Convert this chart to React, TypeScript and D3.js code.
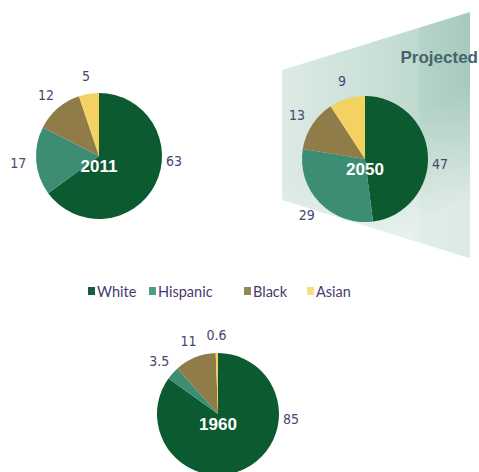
import React from "react";
import * as d3 from "d3";

const groups = ["White", "Hispanic", "Black", "Asian"];
const colors = ["#0c5a30", "#3d8d74", "#8f7c48", "#f3d262"];
const legendColors = ["#1a5c3c", "#4f9c82", "#8a8a52", "#f5e080"];

const years = ["2011", "2050", "1960"];
const values2011 = [63, 17, 12, 5];
const values2050 = [47, 29, 13, 9];
const values1960 = [85, 3.5, 11, 0.6];
const labels2011 = ["63", "17", "12", "5"];
const labels2050 = ["47", "29", "13", "9"];
const labels1960 = ["85", "3.5", "11", "0.6"];

const W = 479;
const H = 472;

const pies = [
  { year: years[0], values: values2011, labels: labels2011, cx: 99, cy: 156, r: 63 },
  { year: years[1], values: values2050, labels: labels2050, cx: 365, cy: 159, r: 63 },
  { year: years[2], values: values1960, labels: labels1960, cx: 218, cy: 414, r: 61 },
];

const legendX = [88, 149, 244, 307];

const numFont = "'Liberation Sans Narrow', 'Arial Narrow', 'DejaVu Sans Condensed', 'Liberation Sans', Arial, sans-serif";
const labelColor = "#4a4470";

function Pie({ p }: { p: typeof pies[number] }) {
  const pie = d3.pie<number>().sort(null).value((d) => d);
  const arcs = pie(p.values);
  const arc = d3.arc<d3.PieArcDatum<number>>().innerRadius(0).outerRadius(p.r);
  const labelArc = d3
    .arc<d3.PieArcDatum<number>>()
    .innerRadius(p.r + 18)
    .outerRadius(p.r + 18);
  return (
    <g transform={`translate(${p.cx},${p.cy})`}>
      {arcs.map((a, i) => (
        <path key={i} d={arc(a) || ""} fill={colors[i]} />
      ))}
      {arcs.map((a, i) => {
        let x: number, y: number;
        if (i === 0) {
          x = p.r + 12;
          y = 5;
        } else {
          const c = labelArc.centroid(a);
          x = c[0];
          y = c[1];
        }
        return (
          <text
            key={"l" + i}
            x={x}
            y={y}
            textAnchor="middle"
            dominantBaseline="central"
            fontFamily={numFont}
            fontSize={14}
            fill={labelColor}
          >
            {p.labels[i]}
          </text>
        );
      })}
      <text
        x={0}
        y={10}
        textAnchor="middle"
        dominantBaseline="central"
        fontFamily="'Liberation Sans', Arial, sans-serif"
        fontWeight="bold"
        fontSize={17}
        fill="#ffffff"
      >
        {p.year}
      </text>
    </g>
  );
}

export default function App() {
  return (
    <svg
      width={W}
      height={H}
      style={{ position: "absolute", left: 0, top: 0, background: "#ffffff" }}
    >
      <defs>
        <linearGradient id="proj" x1="0" y1="0" x2="1" y2="0">
          <stop offset="0%" stopColor="#dceae5" />
          <stop offset="40%" stopColor="#cde2da" />
          <stop offset="72%" stopColor="#c0dad0" />
          <stop offset="74%" stopColor="#b5d3c8" />
          <stop offset="100%" stopColor="#a8cabe" />
        </linearGradient>
        <linearGradient id="fade" x1="0" y1="0" x2="0.4" y2="1">
          <stop offset="60%" stopColor="#ffffff" stopOpacity={0} />
          <stop offset="100%" stopColor="#ffffff" stopOpacity={0.6} />
        </linearGradient>
      </defs>
      <polygon points="282,70 470,12 470,258 282,200" fill="url(#proj)" />
      <polygon points="282,70 470,12 470,258 282,200" fill="url(#fade)" />
      <text
        x={478}
        y={57}
        textAnchor="end"
        dominantBaseline="central"
        fontFamily="'Liberation Sans', Arial, sans-serif"
        fontWeight="bold"
        fontSize={17}
        fill="#44646c"
      >
        Projected
      </text>
      {pies.map((p) => (
        <Pie key={p.year} p={p} />
      ))}
      <g>
        {groups.map((g, i) => (
          <g key={g} transform={`translate(${legendX[i]},291)`}>
            <rect x={0} y={-4} width={7} height={8} fill={legendColors[i]} />
            <text
              x={9}
              y={0}
              dominantBaseline="central"
              fontFamily="Lato, 'Open Sans', sans-serif"
              fontSize={14.5}
              fill="#4a3a6e"
            >
              {g}
            </text>
          </g>
        ))}
      </g>
    </svg>
  );
}
